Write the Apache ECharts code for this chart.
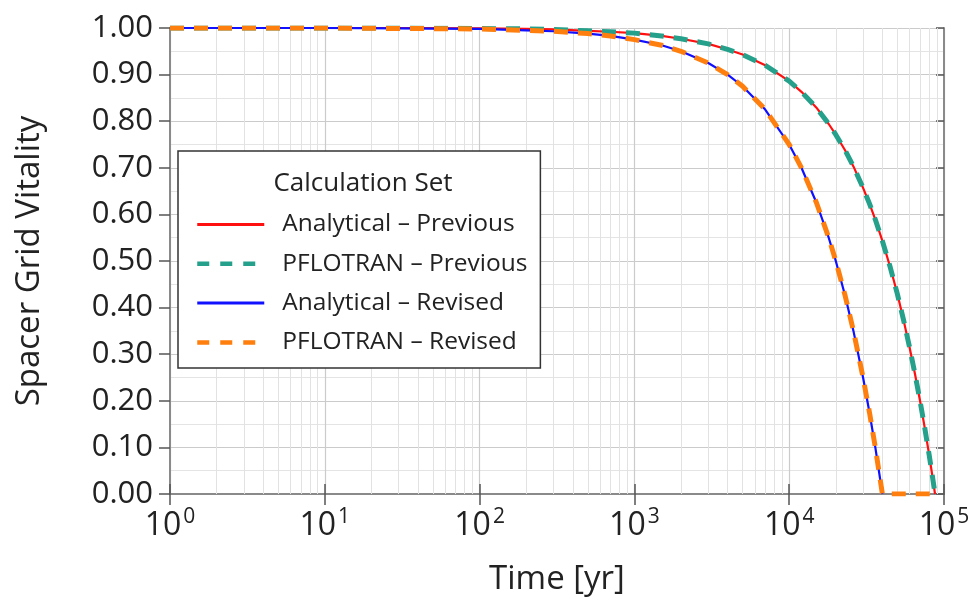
<!DOCTYPE html>
<html>
<head>
<meta charset="utf-8">
<script src="https://cdn.jsdelivr.net/npm/echarts@6/dist/echarts.min.js"></script>
<style>
  html, body { margin: 0; padding: 0; background: #fff; }
  #chart { width: 974px; height: 607px; }
</style>
</head>
<body>
<div id="chart"></div>
<script>
// time [yr]
var times = [1, 3, 10, 30, 100, 200, 300, 500, 700, 1000, 1500, 2000, 3000, 4000, 5000, 7000,
  10000, 12000, 15000, 18000, 20000, 23000, 26000, 30000, 33000, 36000, 40000,
  45000, 50000, 55000, 60000, 65000, 70000, 75000, 80000, 84000, 87500, 90000];

// spacer grid vitality
var analyticalPrev = [1, 1, 1, 1, 0.999, 0.998, 0.997, 0.994, 0.992, 0.989, 0.983, 0.977, 0.966, 0.954, 0.943, 0.92,
  0.886, 0.863, 0.829, 0.794, 0.771, 0.737, 0.703, 0.657, 0.623, 0.589, 0.543,
  0.486, 0.429, 0.371, 0.314, 0.257, 0.20, 0.143, 0.086, 0.04, 0.0, null];
var pflotranPrev = [1, 1, 1, 1, 0.999, 0.998, 0.997, 0.994, 0.992, 0.989, 0.983, 0.977, 0.966, 0.954, 0.943, 0.92,
  0.886, 0.863, 0.829, 0.794, 0.771, 0.737, 0.703, 0.657, 0.623, 0.589, 0.543,
  0.486, 0.429, 0.371, 0.314, 0.257, 0.20, 0.143, 0.086, 0.04, 0.0, 0.0];
var analyticalRev = [1, 1, 1, 0.999, 0.998, 0.995, 0.993, 0.988, 0.983, 0.975, 0.963, 0.95, 0.925, 0.90, 0.875, 0.825,
  0.75, 0.70, 0.625, 0.55, 0.50, 0.425, 0.35, 0.25, 0.175, 0.10, 0.0,
  null, null, null, null, null, null, null, null, null, null, null];
var pflotranRev = [1, 1, 1, 0.999, 0.998, 0.995, 0.993, 0.988, 0.983, 0.975, 0.963, 0.95, 0.925, 0.90, 0.875, 0.825,
  0.75, 0.70, 0.625, 0.55, 0.50, 0.425, 0.35, 0.25, 0.175, 0.10, 0.0,
  0.0, 0.0, 0.0, 0.0, 0.0, 0.0, 0.0, 0.0, 0.0, 0.0, 0.0];

var seriesNames = ['Analytical \u2013 Previous', 'PFLOTRAN \u2013 Previous', 'Analytical \u2013 Revised', 'PFLOTRAN \u2013 Revised'];

var FONT = '"Open Sans", "Noto Sans", sans-serif';

// x,y pairs for the log axis
function pairs(vals){
  var out = [];
  for(var i=0; i<times.length; i++){
    if(vals[i] !== null) out.push([times[i], vals[i]]);
  }
  return out;
}

// minor vertical grid at 2..9 of each decade
var minorX = [];
for(var d=1; d<100000; d*=10){
  for(var k=2; k<10; k++) minorX.push({xAxis: d*k});
}

var chart = echarts.init(document.getElementById('chart'));

var option = {
  animation: false,
  title: {
    text: 'Calculation Set',
    left: 358,
    top: 166,
    textAlign: 'center',
    z: 10,
    textStyle: { fontFamily: FONT, fontSize: 26, fontWeight: 'normal', color: '#222' }
  },
  legend: {
    orient: 'vertical',
    left: 178,
    top: 151,
    padding: [61, 13, 13, 17],
    itemGap: 14.3,
    itemWidth: 67,
    itemHeight: 14,
    backgroundColor: '#fff',
    borderColor: '#333',
    borderWidth: 1.5,
    borderRadius: 0,
    itemStyle: { opacity: 0 },
    data: [
      { name: seriesNames[0], lineStyle: { width: 3 } },
      { name: seriesNames[1], lineStyle: { width: 4.5, type: [12, 11] } },
      { name: seriesNames[2], lineStyle: { width: 3 } },
      { name: seriesNames[3], lineStyle: { width: 4.5, type: [12, 11] } }
    ],
    textStyle: { fontFamily: FONT, fontSize: 24.5, color: '#222', lineHeight: 25, padding: [0, 0, 0, 13] }
  },
  grid: { left: 170, right: 30, top: 28, bottom: 113 },
  xAxis: [
    {
      type: 'log',
      logBase: 10,
      min: 1,
      max: 100000,
      name: 'Time [yr]',
      nameLocation: 'middle',
      nameGap: 69,
      nameTextStyle: { fontFamily: FONT, fontSize: 33, color: '#222' },
      axisLine: { lineStyle: { color: '#8a8a8a', width: 2 } },
      axisTick: { show: true, length: 11, lineStyle: { color: '#555', width: 1.5 } },
      splitLine: { show: true, lineStyle: { color: '#cbcbcb', width: 1.2 } },
      axisLabel: {
        margin: 13,
        formatter: function(v){
          var e = Math.round(Math.log(v) / Math.LN10);
          return '{b|10}{s|' + e + '}';
        },
        rich: {
          b: { fontFamily: FONT, fontSize: 32, color: '#222' },
          s: { fontFamily: FONT, fontSize: 21, color: '#222', padding: [0, 0, 16, 2] }
        }
      }
    },
    {
      type: 'log',
      logBase: 10,
      min: 1,
      max: 100000,
      position: 'top',
      axisLine: { lineStyle: { color: '#8a8a8a', width: 2 } },
      axisTick: { show: true, length: 10, lineStyle: { color: '#555', width: 1.5 } },
      axisLabel: { show: false },
      splitLine: { show: false }
    }
  ],
  yAxis: [
    {
      type: 'value',
      min: 0,
      max: 1,
      interval: 0.1,
      name: 'Spacer Grid Vitality',
      nameLocation: 'middle',
      nameGap: 124,
      nameTextStyle: { fontFamily: FONT, fontSize: 33, color: '#222' },
      axisLine: { show: true, lineStyle: { color: '#8a8a8a', width: 2 } },
      axisTick: { show: true, length: 11, lineStyle: { color: '#555', width: 1.5 } },
      splitLine: { show: true, lineStyle: { color: '#cbcbcb', width: 1.2 } },
      minorTick: { show: false, splitNumber: 2 },
      minorSplitLine: { show: true, lineStyle: { color: '#e4e4e4', width: 1 } },
      axisLabel: {
        margin: 17,
        fontFamily: FONT,
        fontSize: 31,
        color: '#222',
        formatter: function(v){ return v.toFixed(2); }
      }
    },
    {
      type: 'value',
      min: 0,
      max: 1,
      interval: 0.1,
      position: 'right',
      axisLine: { show: true, lineStyle: { color: '#8a8a8a', width: 2 } },
      axisTick: { show: true, inside: true, length: 8, lineStyle: { color: '#555', width: 1.5 } },
      axisLabel: { show: false },
      splitLine: { show: false }
    }
  ],
  series: [
    {
      name: seriesNames[0],
      type: 'line',
      symbol: 'none',
      z: 3,
      data: pairs(analyticalPrev),
      lineStyle: { color: '#ff1010', width: 2.2 },
      itemStyle: { color: '#ff1010' },
      markLine: {
        silent: true,
        symbol: 'none',
        label: { show: false },
        z: 1,
        lineStyle: { color: '#e2e2e2', width: 1, type: 'solid' },
        data: minorX
      }
    },
    {
      name: seriesNames[1],
      type: 'line',
      symbol: 'none',
      z: 4,
      data: pairs(pflotranPrev),
      lineStyle: { color: '#25a08a', width: 5, type: [14, 10] },
      itemStyle: { color: '#25a08a' }
    },
    {
      name: seriesNames[2],
      type: 'line',
      symbol: 'none',
      z: 3,
      data: pairs(analyticalRev),
      lineStyle: { color: '#1010ff', width: 2.2 },
      itemStyle: { color: '#1010ff' }
    },
    {
      name: seriesNames[3],
      type: 'line',
      symbol: 'none',
      z: 4,
      data: pairs(pflotranRev),
      lineStyle: { color: '#ff7f0e', width: 5, type: [14, 10] },
      itemStyle: { color: '#ff7f0e' }
    }
  ]
};

chart.setOption(option);
</script>
</body>
</html>
